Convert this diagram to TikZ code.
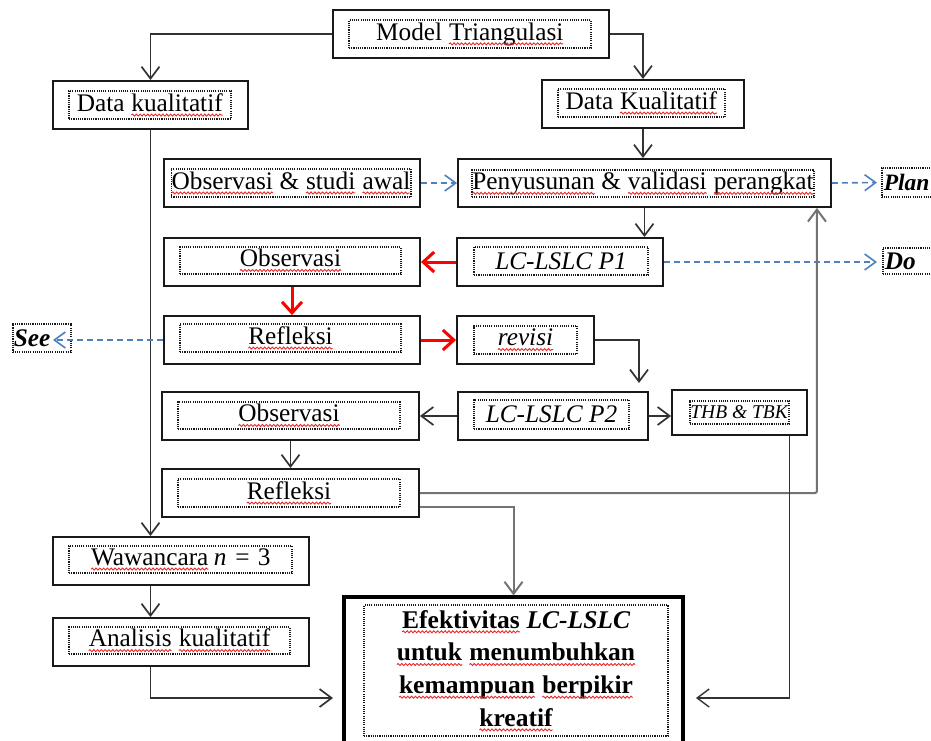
\documentclass[tikz,border=0pt]{standalone}
\usepackage{fontspec}
\setmainfont{Liberation Serif}
\usetikzlibrary{arrows.meta,decorations.pathmorphing}

\definecolor{inkline}{RGB}{50,50,50}
\definecolor{softline}{RGB}{115,115,115}
\definecolor{dashblue}{RGB}{79,129,189}
\definecolor{spellred}{RGB}{235,40,40}
\definecolor{flowred}{RGB}{255,0,0}

% a word with a wavy red underline
\newcommand\sq[1]{\tikz[baseline=(w.base)]{%
  \node[draw=none,fill=none,inner sep=0pt,outer sep=0pt,minimum width=0pt,minimum height=0pt,anchor=base,font=] (w) {#1};%
  \draw[solid,line width=0.9pt,spellred,decorate,decoration={snake,amplitude=1pt,segment length=3.8pt}]
    ([yshift=-3.8pt]w.base west) -- ([yshift=-3.8pt]w.base east);}}

\tikzset{
  obox/.style={draw=black!90, line width=1.9pt, inner sep=0pt},
  tbox/.style={draw=black!90, line width=1.5pt, dash pattern=on 1.1pt off 1.1pt, inner sep=0pt,
               font=\fontsize{25.3pt}{30pt}\selectfont},
  arr/.style={draw=inkline, line width=1.7pt, -{Straight Barb[length=12pt,width=18pt]}},
  softarr/.style={arr, draw=softline},
  redarr/.style={draw=flowred, line width=3pt, -{Straight Barb[length=11pt,width=20pt]}},
  bluearr/.style={draw=dashblue, line width=1.6pt, dash pattern=on 6pt off 4pt, -{Straight Barb[length=11pt,width=16pt]}},
}

\begin{document}
\begin{tikzpicture}[x=1pt,y=-1pt]
\clip (0,0) rectangle (931,740);

% ---- boxes: solid frame + dotted text frame ----
\node[obox, minimum width=276pt, minimum height=48pt] (model) at (471,34) {};
\node[tbox, minimum width=242pt, minimum height=28pt] (model-t) at (470,34) {Model \sq{Triangulasi}};

\node[obox, minimum width=195pt, minimum height=48pt] (dk1) at (150.5,105) {};
\node[tbox, minimum width=162pt, minimum height=28pt] (dk1-t) at (150,105) {Data \sq{kualitatif}};

\node[obox, minimum width=202pt, minimum height=48pt] (dk2) at (643,104) {};
\node[tbox, minimum width=167pt, minimum height=28pt] (dk2-t) at (641.5,103) {Data \sq{Kualitatif}};

\node[obox, minimum width=256pt, minimum height=48pt] (obs0) at (292,183) {};
\node[tbox, minimum width=222pt, minimum height=28pt] (obs0-t) at (291,183) {\sq{Observasi} \& \sq{studi} \sq{awal}};

\node[obox, minimum width=373pt, minimum height=48pt] (pen) at (644.5,183) {};
\node[tbox, minimum width=338pt, minimum height=27pt] (pen-t) at (643,183.5) {\sq{Penyusunan} \& \sq{validasi} \sq{perangkat}};

\node[tbox, anchor=west, minimum height=29pt, inner xsep=2pt, font=\fontsize{23.5pt}{28pt}\selectfont] (plan) at (881,182.5) {\makebox[64pt][l]{\textbf{\textit{Plan}}}};

\node[obox, minimum width=206pt, minimum height=48pt] (lc1) at (560,262) {};
\node[tbox, minimum width=174pt, minimum height=28pt] (lc1-t) at (561,261) {\textit{LC-LSLC P1}};

\node[tbox, anchor=west, minimum height=26pt, inner xsep=2pt] (do) at (882,261) {\makebox[64pt][l]{\textbf{\textit{Do}}}};

\node[obox, minimum width=256pt, minimum height=48pt] (obs1) at (292,262) {};
\node[tbox, minimum width=221pt, minimum height=27pt] (obs1-t) at (290.5,260.5) {\sq{Observasi}};

\node[obox, minimum width=256pt, minimum height=48pt] (ref1) at (292,340) {};
\node[tbox, minimum width=221pt, minimum height=28pt] (ref1-t) at (290.5,338) {\sq{Refleksi}};

\node[obox, minimum width=137pt, minimum height=48pt] (rev) at (525.5,340) {};
\node[tbox, minimum width=103pt, minimum height=28pt] (rev-t) at (525.5,340) {\textit{\sq{revisi}}};

\node[tbox, anchor=west, minimum height=28pt, inner xsep=1pt] (see) at (12,338) {\makebox[56pt][l]{\textbf{\textit{See}}}};

\node[obox, minimum width=257pt, minimum height=48pt] (obs2) at (290.5,416) {};
\node[tbox, minimum width=222pt, minimum height=27pt] (obs2-t) at (289,415.5) {\sq{Observasi}};

\node[obox, minimum width=190pt, minimum height=48pt] (lc2) at (553,416) {};
\node[tbox, minimum width=155pt, minimum height=29pt] (lc2-t) at (551.5,414.5) {\textit{LC-LSLC P2}};

\node[obox, minimum width=135pt, minimum height=45pt] (thb) at (739.5,412.5) {};
\node[tbox, minimum width=99pt, minimum height=23pt, font=\fontsize{19.5pt}{23pt}\selectfont] (thb-t) at (739.5,412.5) {\textit{THB \& TBK}};

\node[obox, minimum width=257pt, minimum height=48pt] (ref2) at (290.5,493) {};
\node[tbox, minimum width=222pt, minimum height=28pt] (ref2-t) at (289,493) {\sq{Refleksi}};

\node[obox, minimum width=256pt, minimum height=48pt] (waw) at (181,561) {};
\node[tbox, minimum width=223pt, minimum height=27pt] (waw-t) at (180.5,559.5) {\sq{Wawancara}\hspace{5pt}\textit{n}\hspace{9pt}=\hspace{8pt}3};

\node[obox, minimum width=256pt, minimum height=48pt] (ana) at (181,642) {};
\node[tbox, minimum width=221pt, minimum height=27pt] (ana-t) at (179.5,640.5) {\sq{Analisis} \sq{kualitatif}};

\node[obox, line width=3.2pt, draw=black, minimum width=339pt, minimum height=183pt] (efk) at (513.5,688.5) {};
\node[tbox, minimum width=304pt, minimum height=125pt, font=\fontsize{25.5pt}{32.7pt}\selectfont\bfseries] (efk-t) at (516,670.5)
  {\begin{tabular}{@{}c@{}}\sq{Efektivitas} \textit{LC-LSLC}\\ \sq{untuk} \sq{menumbuhkan}\\ \sq{kemampuan} \sq{berpikir}\\ \sq{kreatif}\end{tabular}};

% ---- free ends of connectors ----
\coordinate (penin) at ([xshift=-15pt]pen.south east);
\coordinate (revdrop) at (639,383);
\coordinate (seetip) at ([xshift=41pt]see.west);
\coordinate (thbout) at ([xshift=50pt]thb.south);
\coordinate (efkL) at (333,698);
\coordinate (efkR) at (696,698);

% ---- connectors ----
\draw[arr] (model.west) -| (dk1.north);
\draw[arr] (model.east) -| (dk2.north);
\draw[arr] (dk1.south) -- (dk1.south |- waw.north);
\draw[arr] (dk2.south) -- (dk2.south |- pen.north);
\draw[arr] (pen.south) -- (pen.south |- lc1.north);

\draw[bluearr] (obs0.east) -- (pen.west);
\draw[bluearr, shorten >=4pt] (pen.east) -- (plan.west);
\draw[bluearr, shorten >=5pt] (lc1.east) -- (lc1.east -| do.west);
\draw[bluearr] (ref1.west) -- (ref1.west -| seetip);

\draw[redarr] (lc1.west) -- (obs1.east);
\draw[redarr] (obs1.south) -- (obs1.south |- ref1.north);
\draw[redarr] (ref1.east) -- (rev.west);

\draw[arr] (rev.east) -| (revdrop);
\draw[arr] (lc2.west) -- (lc2.west -| obs2.east);
\draw[arr] (lc2.east) -- (lc2.east -| thb.west);
\draw[arr] (obs2.south) -- (obs2.south |- ref2.north);

\draw[softarr, line width=2pt, rounded corners=2pt] (ref2.east) -| (penin);
\draw[softarr, line width=2pt] ([yshift=-14pt]ref2.east) -| (efk.north);
\draw[arr, line width=1.4pt] (thbout) |- (efkR);

\draw[arr] (dk1.south |- waw.south) -- (dk1.south |- ana.north);
\draw[arr] (dk1.south |- ana.south) |- (efkL);
\end{tikzpicture}
\end{document}
